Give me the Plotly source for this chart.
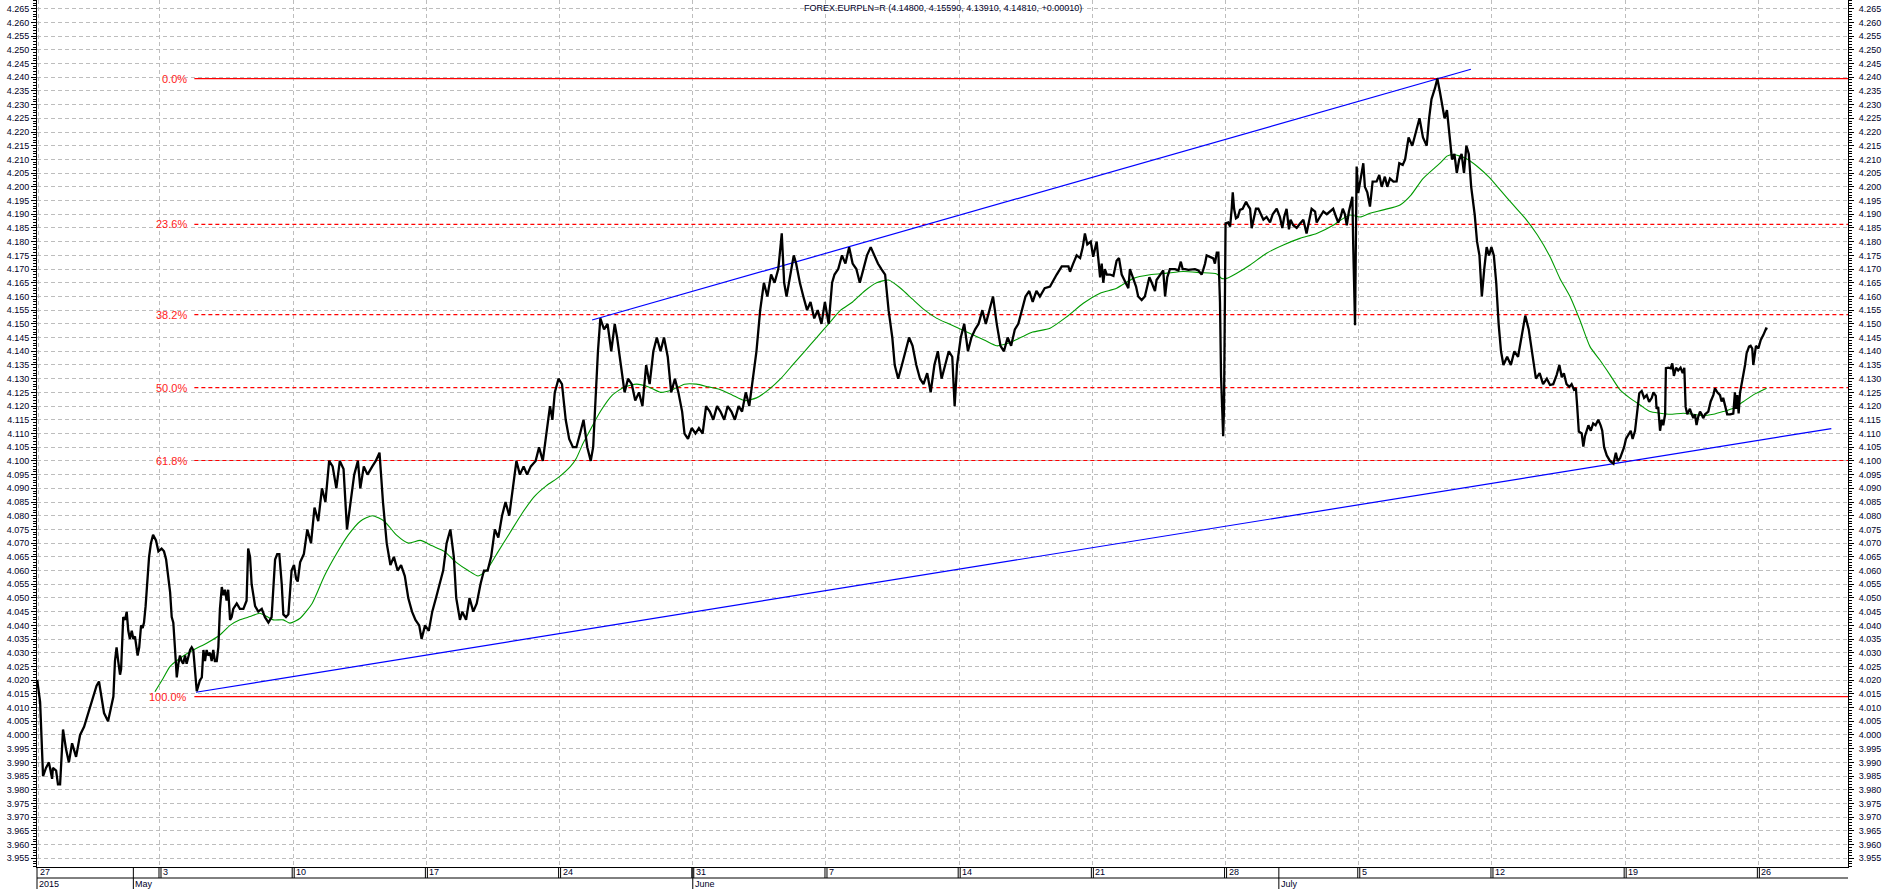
import plotly.graph_objects as go

# ---------------- data (x = trading days since Mon 27 Apr 2015 00:00) ----------------
price_t = [0.39, 0.50, 0.61, 0.72, 0.83, 0.95, 0.98, 1.10, 1.17, 1.25, 1.36, 1.47, 1.58, 1.70, 1.85,
           2.00, 2.15, 2.30, 2.49, 2.62, 2.71, 2.81, 2.90, 3.05, 3.16, 3.25, 3.31, 3.37, 3.43, 3.50,
           3.54, 3.58, 3.62, 3.69, 3.75, 3.81, 3.87, 3.94, 4.00, 4.06, 4.13, 4.16, 4.22, 4.29, 4.35,
           4.40, 4.46, 4.52, 4.59, 4.66, 4.74, 4.85, 4.94, 5.06, 5.15, 5.23, 5.31, 5.38, 5.44, 5.50,
           5.56, 5.63, 5.69, 5.75, 5.81, 5.87, 5.94, 6.00, 6.13, 6.19, 6.25, 6.31, 6.38, 6.44, 6.50,
           6.57, 6.63, 6.69, 6.75, 6.81, 6.88, 6.94, 7.00, 7.06, 7.13, 7.19, 7.25, 7.32, 7.38, 7.44,
           7.50, 7.56, 7.63, 7.69, 7.75, 7.88, 8.00, 8.13, 8.25, 8.31, 8.38, 8.44, 8.57, 8.69, 8.82,
           8.94, 9.07, 9.19, 9.32, 9.40, 9.48, 9.57, 9.63, 9.73, 9.82, 9.88, 9.94, 10.03, 10.11, 10.17,
           10.26, 10.40, 10.53, 10.67, 10.80, 10.94, 11.08, 11.21, 11.35, 11.48, 11.62, 11.75, 11.89, 12.02, 12.16,
           12.29, 12.43, 12.52, 12.65, 12.79, 12.97, 13.10, 13.24, 13.37, 13.51, 13.65, 13.78, 13.92, 14.05, 14.19,
           14.32, 14.46, 14.59, 14.73, 14.82, 14.95, 15.09, 15.22, 15.36, 15.49, 15.63, 15.76, 15.90, 16.03, 16.12,
           16.26, 16.35, 16.49, 16.62, 16.76, 16.89, 17.03, 17.16, 17.30, 17.43, 17.57, 17.70, 17.84, 17.97, 18.11,
           18.24, 18.38, 18.51, 18.65, 18.78, 18.92, 19.10, 19.23, 19.37, 19.50, 19.64, 19.73, 19.82, 19.96, 20.09,
           20.23, 20.36, 20.50, 20.63, 20.77, 20.90, 21.04, 21.17, 21.26, 21.35, 21.44, 21.53, 21.67, 21.80, 21.94,
           22.07, 22.16, 22.30, 22.44, 22.57, 22.71, 22.84, 22.98, 23.11, 23.25, 23.38, 23.52, 23.65, 23.79, 23.92,
           24.06, 24.19, 24.33, 24.46, 24.60, 24.69, 24.82, 24.96, 25.10, 25.23, 25.37, 25.50, 25.64, 25.77, 25.91,
           26.04, 26.18, 26.31, 26.45, 26.58, 26.72, 26.85, 26.99, 27.12, 27.26, 27.39, 27.53, 27.67, 27.80, 27.94,
           28.07, 28.21, 28.34, 28.43, 28.52, 28.66, 28.79, 28.88, 29.02, 29.15, 29.29, 29.42, 29.56, 29.69, 29.83,
           29.96, 30.10, 30.23, 30.32, 30.46, 30.60, 30.73, 30.87, 31.00, 31.14, 31.27, 31.41, 31.54, 31.68, 31.81,
           31.95, 32.08, 32.22, 32.35, 32.49, 32.58, 32.71, 32.85, 32.98, 33.12, 33.25, 33.39, 33.53, 33.66, 33.80,
           33.93, 34.07, 34.20, 34.34, 34.47, 34.61, 34.74, 34.83, 34.92, 35.06, 35.19, 35.33, 35.46, 35.60, 35.73,
           35.87, 36.00, 36.14, 36.27, 36.41, 36.55, 36.68, 36.82, 36.95, 37.09, 37.22, 37.36, 37.49, 37.63, 37.76,
           37.90, 38.03, 38.21,
           38.41, 38.66, 38.85, 39.10, 39.16, 39.28, 39.41, 39.54, 39.64, 39.72, 39.81, 39.94, 40.03, 40.16, 40.22,
           40.29, 40.35, 40.41, 40.47, 40.54, 40.66, 40.79, 40.91, 41.00, 41.10, 41.22, 41.35, 41.41, 41.51, 41.64,
           41.72, 41.85, 41.97, 42.04, 42.14, 42.23, 42.35, 42.41, 42.54, 42.66, 42.73, 42.81, 42.91, 43.10, 43.23,
           43.32, 43.39, 43.48, 43.60, 43.73, 43.85, 43.98, 44.10, 44.16, 44.23, 44.29, 44.42, 44.54, 44.60, 44.67,
           44.73, 44.79, 44.83, 44.87, 44.91, 44.94, 44.98, 45.00, 45.10, 45.17, 45.23, 45.27, 45.32, 45.39, 45.46,
           45.54, 45.64, 45.77, 45.85, 45.92, 45.98, 46.04, 46.14, 46.23, 46.32, 46.42, 46.54, 46.67, 46.77, 46.92,
           47.04, 47.13, 47.20, 47.29, 47.38, 47.44, 47.54, 47.67, 47.79, 47.92, 48.04, 48.10, 48.23, 48.36, 48.42,
           48.54, 48.67, 48.80, 48.92, 49.04, 49.15, 49.23, 49.32, 49.40, 49.48, 49.55, 49.63, 49.71, 49.76, 49.79,
           49.82, 49.86, 49.90, 49.92, 49.98, 50.07, 50.17, 50.23, 50.32, 50.42, 50.52, 50.67, 50.77, 50.86, 50.98,
           51.07, 51.17, 51.30, 51.42, 51.52,
           51.65, 51.74, 51.87, 52.01, 52.14, 52.28, 52.41, 52.55, 52.64, 52.73, 52.86, 52.95, 53.04, 53.13, 53.22,
           53.31, 53.40, 53.50, 53.59, 53.68, 53.77, 53.86, 53.95, 54.04, 54.13, 54.22, 54.35, 54.44, 54.53, 54.62,
           54.71, 54.80, 54.89, 54.98, 55.07, 55.16, 55.25, 55.34, 55.43, 55.57, 55.71, 55.84, 55.98, 56.11, 56.25,
           56.38, 56.52, 56.65, 56.79, 56.92, 57.06,
           57.18, 57.30, 57.43, 57.53, 57.62, 57.70, 57.80, 57.90, 57.99, 58.08, 58.15, 58.20, 58.26, 58.37, 58.43,
           58.49, 58.56, 58.62, 58.71, 58.80, 58.89, 58.99, 59.08, 59.14, 59.21, 59.31, 59.43, 59.56, 59.65, 59.72,
           59.81, 59.96, 60.03, 60.14, 60.21, 60.28, 60.37, 60.46, 60.53, 60.62, 60.71, 60.81, 60.90, 61.00, 61.06,
           61.15, 61.18, 61.24, 61.31, 61.37, 61.43, 61.50, 61.53, 61.62, 61.71, 61.77, 61.83, 61.91, 61.99, 62.08,
           62.16, 62.22, 62.27, 62.33, 62.43, 62.50, 62.56, 62.62, 62.68, 62.74, 62.81, 62.87, 62.93, 63.00, 63.12,
           63.21, 63.31, 63.37, 63.46, 63.56, 63.62, 63.68, 63.77, 63.83, 63.94, 64.06, 64.12, 64.16, 64.21, 64.26,
           64.31, 64.37, 64.43, 64.50, 64.56, 64.65, 64.71, 64.77, 64.81, 64.86, 64.91, 65.00, 65.09, 65.19, 65.29,
           65.34]

price_v = [4.0201, 4.012, 3.985, 3.988, 3.990, 3.984, 3.988, 3.987, 3.982, 3.982, 4.002, 3.995, 3.990, 3.997, 3.992,
           4.000, 4.003, 4.008, 4.014, 4.018, 4.0195, 4.014, 4.008, 4.005, 4.010, 4.014, 4.027, 4.032, 4.027, 4.022,
           4.024, 4.032, 4.043, 4.042, 4.045, 4.038, 4.035, 4.038, 4.035, 4.036, 4.032, 4.029, 4.032, 4.040, 4.039,
           4.041, 4.047, 4.055, 4.065, 4.070, 4.073, 4.071, 4.067, 4.068, 4.067, 4.064, 4.058, 4.052, 4.043, 4.041,
           4.032, 4.021, 4.026, 4.029, 4.027, 4.026, 4.029, 4.026, 4.031, 4.032, 4.031, 4.024, 4.016, 4.018, 4.020,
           4.021, 4.031, 4.027, 4.031, 4.029, 4.030, 4.027, 4.031, 4.027, 4.027, 4.032, 4.046, 4.054, 4.051, 4.053,
           4.049, 4.053, 4.042, 4.043, 4.046, 4.048, 4.046, 4.046, 4.049, 4.068, 4.065, 4.055, 4.047, 4.045, 4.046,
           4.043, 4.041, 4.043, 4.064, 4.066, 4.066, 4.055, 4.044, 4.043, 4.044, 4.052, 4.060, 4.062, 4.057, 4.056,
           4.063, 4.066, 4.075, 4.070, 4.083, 4.078, 4.090, 4.085, 4.100, 4.098, 4.090, 4.100, 4.097, 4.075, 4.085,
           4.095, 4.100, 4.090, 4.098, 4.095, 4.098, 4.100, 4.103, 4.085, 4.070, 4.062, 4.065, 4.060, 4.062, 4.058,
           4.050, 4.045, 4.042, 4.040, 4.035, 4.040, 4.038, 4.045, 4.050, 4.055, 4.060, 4.070, 4.075, 4.065, 4.050,
           4.042, 4.045, 4.042, 4.050, 4.045, 4.048, 4.055, 4.060, 4.060, 4.065, 4.075, 4.072, 4.080, 4.085, 4.080,
           4.090, 4.100, 4.095, 4.098, 4.095, 4.098, 4.100, 4.105, 4.100, 4.110, 4.120, 4.115, 4.125, 4.130, 4.128,
           4.115, 4.108, 4.105, 4.105, 4.110, 4.115, 4.105, 4.100, 4.105, 4.125, 4.140, 4.152, 4.148, 4.150, 4.140,
           4.150, 4.145, 4.135, 4.125, 4.130, 4.128, 4.122, 4.125, 4.120, 4.135, 4.128, 4.140, 4.145, 4.140, 4.145,
           4.138, 4.125, 4.130, 4.125, 4.118, 4.110, 4.108, 4.112, 4.110, 4.112, 4.110, 4.120, 4.118, 4.115, 4.120,
           4.118, 4.115, 4.120, 4.118, 4.115, 4.120, 4.118, 4.125, 4.120, 4.130, 4.140, 4.155, 4.165, 4.160, 4.168,
           4.165, 4.170, 4.183, 4.165, 4.160, 4.168, 4.175, 4.172, 4.165, 4.160, 4.155, 4.158, 4.152, 4.155, 4.150,
           4.158, 4.150, 4.165, 4.168, 4.170, 4.175, 4.172, 4.178, 4.172, 4.170, 4.165, 4.170, 4.175, 4.178, 4.175,
           4.172, 4.170, 4.168, 4.155, 4.145, 4.135, 4.130, 4.135, 4.140, 4.145, 4.142, 4.135, 4.130, 4.128, 4.132,
           4.125, 4.135, 4.140, 4.130, 4.135, 4.140, 4.138, 4.120, 4.135, 4.145, 4.150, 4.140, 4.145, 4.148, 4.150,
           4.155, 4.150, 4.155, 4.160, 4.150, 4.142, 4.140, 4.145, 4.142, 4.148, 4.150, 4.155, 4.160, 4.162, 4.158,
           4.162, 4.160, 4.163,
           4.1636, 4.168, 4.171, 4.171, 4.169, 4.172, 4.175, 4.174, 4.178, 4.183, 4.179, 4.180, 4.1745, 4.180, 4.174,
           4.167, 4.172, 4.165, 4.170, 4.168, 4.168, 4.1675, 4.173, 4.174, 4.168, 4.1655, 4.163, 4.170, 4.167, 4.1636,
           4.160, 4.1587, 4.160, 4.163, 4.167, 4.165, 4.162, 4.166, 4.168, 4.1695, 4.160, 4.167, 4.170, 4.170, 4.1695,
           4.1727, 4.170, 4.170, 4.1697, 4.170, 4.170, 4.1695, 4.168, 4.1697, 4.172, 4.175, 4.1745, 4.1739, 4.172, 4.176,
           4.176, 4.158, 4.131, 4.116, 4.109, 4.1186, 4.1587, 4.1867, 4.187, 4.1855, 4.192, 4.198, 4.192, 4.1885, 4.189,
           4.1916, 4.192, 4.1946, 4.193, 4.192, 4.1849, 4.188, 4.192, 4.192, 4.190, 4.188, 4.189, 4.187, 4.190, 4.192,
           4.189, 4.185, 4.189, 4.192, 4.1845, 4.188, 4.186, 4.185, 4.1865, 4.188, 4.183, 4.186, 4.192, 4.191, 4.187,
           4.189, 4.191, 4.190, 4.191, 4.192, 4.189, 4.187, 4.189, 4.192, 4.190, 4.186, 4.191, 4.195, 4.1964, 4.1794,
           4.1612, 4.1495, 4.188, 4.2074, 4.1977, 4.2037, 4.2086, 4.200, 4.198, 4.1928, 4.2019, 4.202, 4.2043, 4.200, 4.2037,
           4.200, 4.203, 4.2019, 4.202, 4.2086,
           4.208, 4.210, 4.218, 4.215, 4.220, 4.225, 4.218, 4.215, 4.225, 4.232, 4.236, 4.2395, 4.235, 4.230, 4.225,
           4.228, 4.220, 4.210, 4.212, 4.205, 4.210, 4.212, 4.205, 4.215, 4.212, 4.200, 4.190, 4.180, 4.175, 4.160,
           4.170, 4.178, 4.175, 4.178, 4.175, 4.165, 4.150, 4.140, 4.135, 4.138, 4.135, 4.140, 4.138, 4.145, 4.153,
           4.148, 4.138, 4.130, 4.132, 4.128, 4.130,
           4.1277, 4.128, 4.1314, 4.135, 4.1305, 4.132, 4.128, 4.127, 4.128, 4.126, 4.1265, 4.1198, 4.1107, 4.110, 4.1052,
           4.109, 4.111, 4.113, 4.111, 4.1137, 4.113, 4.115, 4.113, 4.111, 4.105, 4.102, 4.100, 4.099, 4.103, 4.100,
           4.101, 4.105, 4.108, 4.110, 4.111, 4.108, 4.111, 4.1186, 4.1247, 4.1255, 4.123, 4.124, 4.1215, 4.123, 4.125,
           4.1237, 4.119, 4.1197, 4.111, 4.115, 4.113, 4.117, 4.1338, 4.134, 4.1338, 4.1356, 4.131, 4.134, 4.133, 4.134,
           4.132, 4.134, 4.1197, 4.117, 4.119, 4.117, 4.1156, 4.117, 4.1131, 4.116, 4.118, 4.117, 4.1156, 4.117, 4.118,
           4.1217, 4.124, 4.1265, 4.125, 4.124, 4.1217, 4.123, 4.1186, 4.117, 4.117, 4.1173, 4.125, 4.119, 4.124, 4.1173,
           4.1247, 4.1277, 4.131, 4.135, 4.1393, 4.1417, 4.142, 4.141, 4.135, 4.139, 4.142, 4.141, 4.1441, 4.146, 4.1483,
           4.1481]

ma_t = [4.81, 5.12, 5.38, 5.75, 6.25, 6.75, 7.25, 7.63, 8.00, 8.38, 8.75, 9.01, 9.25, 9.63, 9.88, 10.26,
        10.71, 11.17, 11.62, 12.07, 12.52, 12.97, 13.42, 13.87, 14.32, 14.77, 15.22, 15.67, 16.12, 16.57, 16.94,
        17.25, 17.70, 18.15, 18.60, 19.05, 19.51, 19.96, 20.41, 20.63, 20.86, 21.08, 21.53, 21.98, 22.44, 22.89,
        23.34, 23.79, 24.24, 24.69, 25.14, 25.59, 26.04, 26.49, 26.94, 27.39, 27.85, 28.30, 28.75, 29.20, 29.65,
        30.10, 30.55, 31.00, 31.45, 31.90, 32.35, 32.80, 33.25, 33.71, 34.16, 34.61, 35.06, 35.51, 35.96, 36.41,
        36.86, 37.31, 37.76, 38.41, 39.04, 39.66, 40.29, 40.91, 41.54, 42.16, 42.79, 43.41, 44.04, 44.67, 44.85,
        45.04, 45.42, 45.92, 46.54, 47.17, 47.79, 48.42, 49.04, 49.42, 49.67, 50.05, 50.42, 50.92, 51.55, 51.96,
        52.41, 52.86, 53.09, 53.31, 53.54, 54.00, 54.44, 54.89, 55.34, 55.79, 56.25, 56.70,
        57.18, 57.55, 57.93, 58.30, 58.68, 59.05, 59.43, 59.81, 60.18, 60.56, 60.93, 61.31, 61.68, 62.18, 62.56,
        62.93, 63.31, 63.68, 64.06, 64.43, 64.81, 65.31]
ma_v = [4.0158, 4.0207, 4.0250, 4.0280, 4.0310, 4.0335, 4.0365, 4.0400, 4.0420, 4.0432, 4.0444, 4.0432, 4.0420,
        4.0420, 4.0408, 4.0426,
        4.048, 4.058, 4.066, 4.073, 4.078, 4.080, 4.078, 4.073, 4.070, 4.071, 4.069, 4.067, 4.063, 4.060, 4.058,
        4.060, 4.067, 4.074, 4.081, 4.087, 4.091, 4.094, 4.098, 4.101, 4.106, 4.110, 4.118, 4.124, 4.127, 4.128,
        4.127, 4.125, 4.126, 4.128, 4.128, 4.127, 4.126, 4.124, 4.122, 4.123, 4.126, 4.130, 4.135, 4.140, 4.145,
        4.150, 4.155, 4.158, 4.162, 4.165, 4.166, 4.163, 4.159, 4.155, 4.152, 4.150, 4.148, 4.146, 4.144, 4.142,
        4.143, 4.145, 4.147, 4.1484, 4.1526, 4.1575, 4.1612, 4.1630, 4.1666, 4.1679, 4.1685, 4.1691, 4.1687, 4.1682,
        4.1666, 4.1666, 4.1685, 4.1715, 4.1758, 4.1788, 4.1812, 4.1830, 4.1860, 4.1885, 4.1897, 4.1890, 4.1904,
        4.1916, 4.1934, 4.197, 4.203, 4.207, 4.209, 4.2112, 4.2118, 4.2105, 4.2075, 4.2035, 4.1985, 4.1935,
        4.1885, 4.1825,
        4.1745, 4.1666, 4.1600, 4.1514, 4.1417, 4.1368, 4.1314, 4.1259, 4.1229, 4.1204, 4.1180, 4.1174, 4.1170,
        4.1174, 4.1170, 4.1165, 4.1170, 4.1180, 4.1192, 4.1216, 4.1241, 4.1265]

upper_t = [21.22, 54.21]
upper_v = [4.1514, 4.2429]
lower_t = [6.35, 67.74]
lower_v = [4.0156, 4.1118]

fib_high = 4.2395
fib_low = 4.0140
fib_ratios = [0.0, 0.236, 0.382, 0.5, 0.618, 1.0]
fib_labels = ["0.0%", "23.6%", "38.2%", "50.0%", "61.8%", "100.0%"]
fib_start = 6.29

week_ticks = [5, 10, 15, 20, 25, 30, 35, 40, 45, 50, 55, 60, 65]
week_labels = ["3", "10", "17", "24", "31", "7", "14", "21", "28", "5", "12", "19", "26"]
first_label = "27"
month_pos = [4, 25, 47]
month_labels = ["May", "June", "July"]
year_label = "2015"

x_range = [0.383, 68.365]
y_range = [3.95183, 4.26817]

title_text = "FOREX.EURPLN=R (4.14800, 4.15590, 4.13910, 4.14810, +0.00010)"

# ---------------- figure ----------------
W, H = 1883, 889
ML, MR, MT, MB = 37, 35, 0, 22
PH = H - MT - MB

FONT = "Liberation Sans, Arial, sans-serif"
TXT = "#000028"
GRID = "#bdbdbd"

fig = go.Figure()

fib_levels = [fib_high - r * (fib_high - fib_low) for r in fib_ratios]
for r, lvl in zip(fib_ratios, fib_levels):
    solid = r in (0.0, 1.0)
    fig.add_trace(go.Scatter(
        x=[fib_start, x_range[1]], y=[lvl, lvl], mode="lines",
        line=dict(color="#ff0000", width=1.2, dash="solid" if solid else "4px,3px"),
        hoverinfo="skip", showlegend=False))

fig.add_trace(go.Scatter(x=upper_t, y=upper_v, mode="lines",
                         line=dict(color="#0000ff", width=1.2), hoverinfo="skip", showlegend=False))
fig.add_trace(go.Scatter(x=lower_t, y=lower_v, mode="lines",
                         line=dict(color="#0000ff", width=1.2), hoverinfo="skip", showlegend=False))
fig.add_trace(go.Scatter(x=ma_t, y=ma_v, mode="lines", line_shape="spline",
                         line=dict(color="#009a00", width=1.1, smoothing=0.6), hoverinfo="skip", showlegend=False))
fig.add_trace(go.Scatter(x=price_t, y=price_v, mode="lines",
                         line=dict(color="#000000", width=2.3), showlegend=False))
# right-hand axis carrier
fig.add_trace(go.Scatter(x=[None], y=[None], yaxis="y2", mode="lines", showlegend=False, hoverinfo="skip"))

yaxis_common = dict(
    range=y_range, tickmode="linear", tick0=3.955, dtick=0.005, tickformat=".3f",
    ticks="outside", ticklen=5, tickcolor="#000000", tickwidth=1,
    showline=True, linecolor="#000000", linewidth=1,
    zeroline=False,
    tickfont=dict(family=FONT, size=9, color=TXT),
    minor=dict(dtick=0.001, tick0=3.955, ticks="outside", ticklen=3, tickcolor="#000000", showgrid=False),
)

fig.update_layout(
    width=W, height=H,
    margin=dict(l=ML, r=MR, t=MT, b=MB, pad=0),
    paper_bgcolor="#ffffff", plot_bgcolor="#ffffff",
    showlegend=False,
    xaxis=dict(range=x_range, tickmode="array", tickvals=[0.45] + week_ticks, showticklabels=False,
               ticks="", showgrid=True, gridcolor=GRID, griddash="4px,3px", gridwidth=1,
               showline=True, linecolor="#000000", linewidth=1, zeroline=False),
    yaxis=dict(**yaxis_common, side="left", showgrid=True, gridcolor=GRID, griddash="4px,3px", gridwidth=1),
    yaxis2=dict(**yaxis_common, side="right", overlaying="y", showgrid=False, ticklabelstandoff=3),
)

shapes = []
row1 = -11 / PH
row2 = -22 / PH
shapes.append(dict(type="line", xref="paper", yref="paper", x0=0, x1=1, y0=row1, y1=row1,
                   line=dict(color="#000000", width=1)))
shapes.append(dict(type="line", xref="paper", yref="paper", x0=0, x1=0, y0=0, y1=row2,
                   line=dict(color="#000000", width=1)))
for t in week_ticks:
    for off in (-1, 1):
        shapes.append(dict(type="line", xref="x", yref="paper", xsizemode="pixel", xanchor=t,
                           x0=off, x1=off, y0=0, y1=row1, line=dict(color="#000000", width=1)))
for t in month_pos:
    shapes.append(dict(type="line", xref="x", yref="paper", x0=t, x1=t, y0=0, y1=row2,
                       line=dict(color="#000000", width=1)))
fig.update_layout(shapes=shapes)

ann = []
ann.append(dict(text=title_text, xref="paper", yref="paper", x=0.5, y=1, xanchor="center", yanchor="top",
                yshift=-1, showarrow=False, font=dict(family=FONT, size=9, color=TXT)))
ann.append(dict(text=first_label, xref="x", yref="paper", x=x_range[0], y=-5.5 / PH, xanchor="left",
                yanchor="middle", xshift=1, showarrow=False, font=dict(family=FONT, size=9, color=TXT)))
for t, lab in zip(week_ticks, week_labels):
    ann.append(dict(text=lab, xref="x", yref="paper", x=t, y=-5.5 / PH, xanchor="left", yanchor="middle",
                    xshift=1, showarrow=False, font=dict(family=FONT, size=9, color=TXT)))
ann.append(dict(text=year_label, xref="x", yref="paper", x=x_range[0], y=-16.5 / PH, xanchor="left",
                yanchor="middle", xshift=0, showarrow=False, font=dict(family=FONT, size=9, color=TXT)))
for t, lab in zip(month_pos, month_labels):
    ann.append(dict(text=lab, xref="x", yref="paper", x=t, y=-16.5 / PH, xanchor="left", yanchor="middle",
                    xshift=0, showarrow=False, font=dict(family=FONT, size=9, color=TXT)))
for lab, lvl in zip(fib_labels, fib_levels):
    ann.append(dict(text=lab, xref="x", yref="y", x=fib_start, y=lvl, xanchor="right", yanchor="middle",
                    xshift=-5, showarrow=False, font=dict(family=FONT, size=11, color="#ff1a1a")))
fig.update_layout(annotations=ann)

fig.write_html("out.html")
